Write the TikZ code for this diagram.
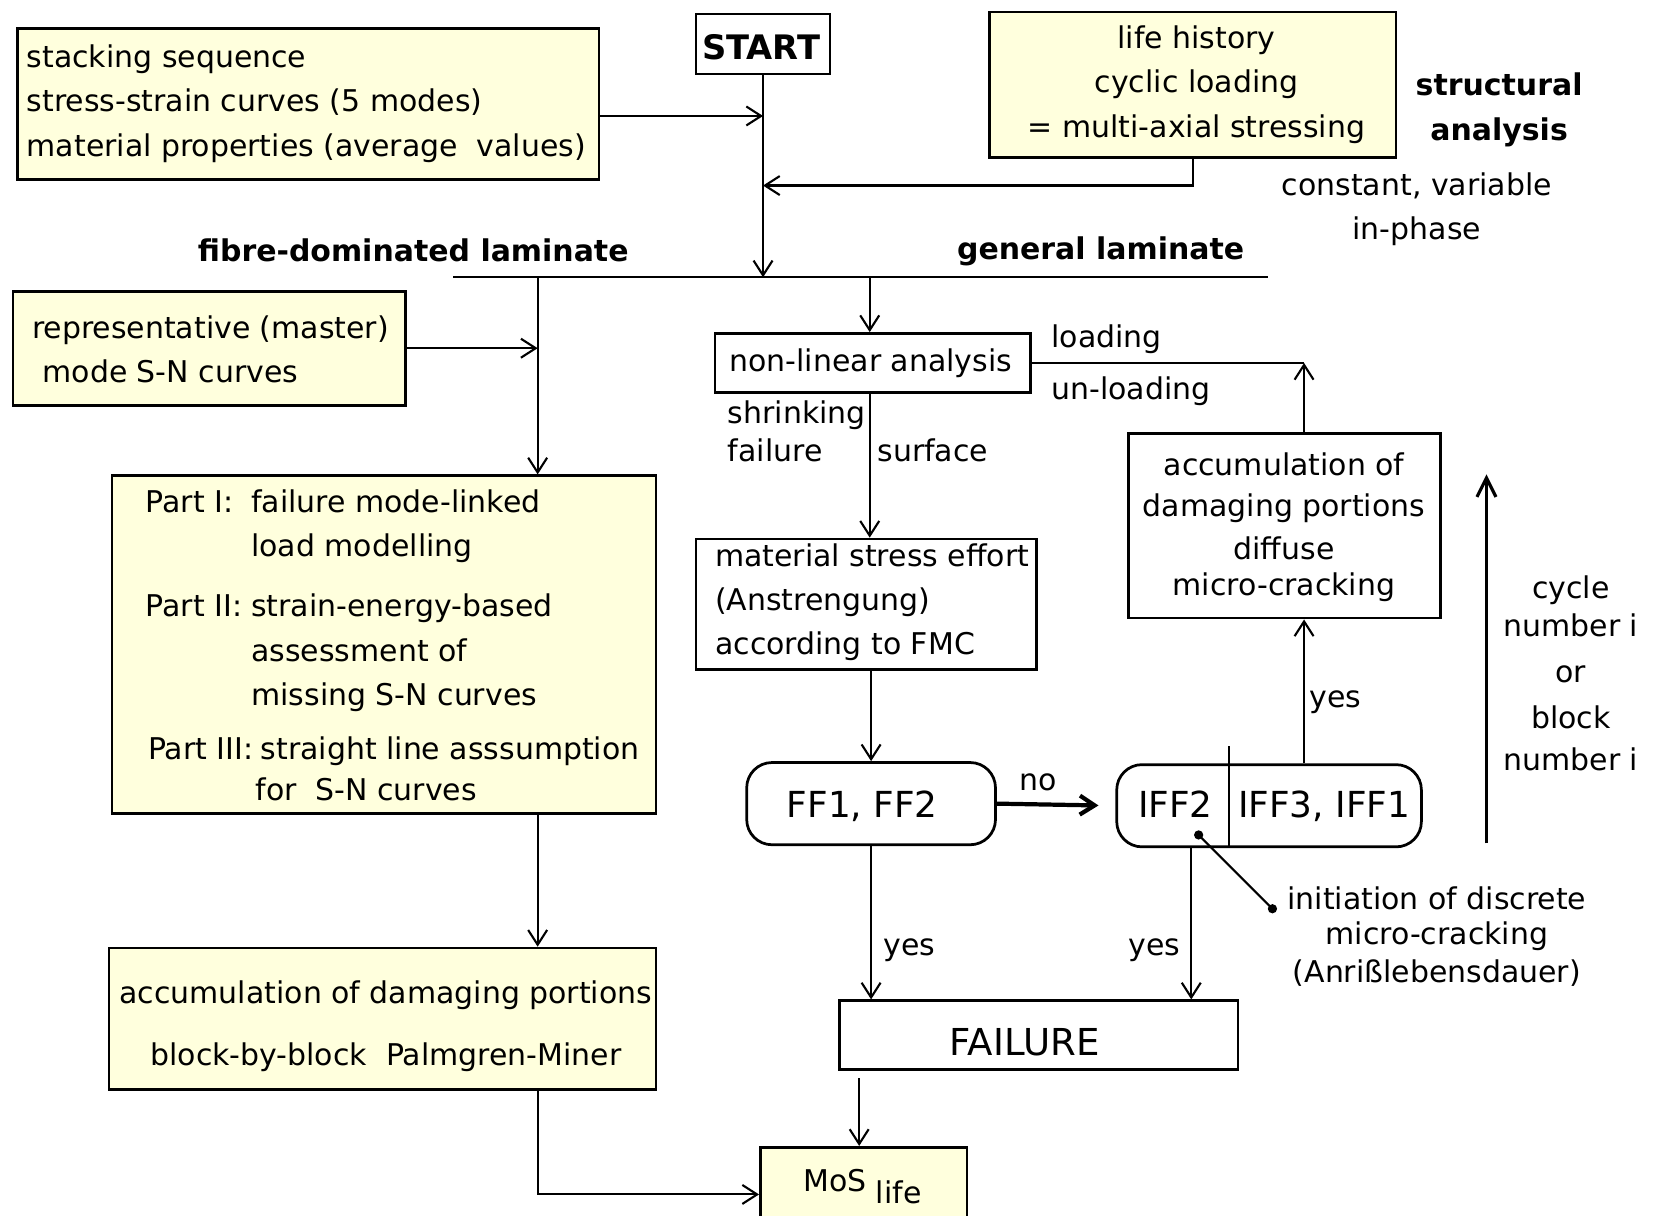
\documentclass[tikz,border=0pt]{standalone}
\usepackage{fontspec}
\setmainfont{DejaVu Sans}
\usetikzlibrary{arrows.meta}
\definecolor{ylw}{RGB}{255,255,221}
\newcommand{\mytl}[1]{\begin{tabular}[t]{@{}l@{}}#1\end{tabular}}
\newcommand{\mytc}[1]{\begin{tabular}[t]{@{}c@{}}#1\end{tabular}}
\newcommand{\fs}{\fontsize{14.2}{21}\selectfont}
\newcommand{\fb}{\fontsize{17}{21}\selectfont}
\begin{document}
\begin{tikzpicture}[x=0.5pt,y=-0.5pt,
  bx/.style={draw, line width=1.3pt, inner sep=0pt, anchor=north west},
  yb/.style={bx, fill=ylw},
  wb/.style={bx, fill=white},
  rb/.style={bx, fill=white, rounded corners=12pt},
  ln/.style={line width=1pt},
  arr/.style={ln, -{Straight Barb[length=7pt,width=9pt]}},
  tx/.style={inner sep=0pt, font=\fs},
  bt/.style={inner sep=0pt, font=\fs\bfseries},
  dot/.style={fill=black}]
\clip (0,0) rectangle (1568,1153);
\fill[white] (0,0) rectangle (1568,1153);
% boxes
\node[yb, minimum width=276pt, minimum height=71.5pt] (stack) at (15,26) {};
\node[wb, minimum width=63.5pt, minimum height=28.5pt] (start) at (659,12) {};
\node[yb, minimum width=193pt, minimum height=69pt] (life) at (937,10) {};
\node[yb, minimum width=186pt, minimum height=54pt] (rep) at (11,275) {};
\node[yb, minimum width=258pt, minimum height=160pt] (part) at (105,450) {};
\node[yb, minimum width=259.5pt, minimum height=67pt] (accL) at (102,898) {};
\node[yb, minimum width=98pt, minimum height=50pt] (mos) at (720,1087) {};
\node[wb, minimum width=149.5pt, minimum height=28pt] (nonlin) at (677,315) {};
\node[wb, minimum width=161.5pt, minimum height=62pt] (mat) at (659,510) {};
\node[rb, minimum width=118pt, minimum height=39pt] (ff) at (707,722) {};
\node[rb, minimum width=144.5pt, minimum height=39pt] (iff) at (1058,724) {};
\node[wb, minimum width=148pt, minimum height=87.5pt] (accR) at (1069,410) {};
\node[wb, minimum width=189pt, minimum height=32.5pt] (fail) at (795,948) {};
% texts
\node[tx, anchor=base west] (tstack) at (25,64) {\mytl{stacking sequence\\stress-strain curves (5 modes)\\material properties (average~ values)}};
\node[inner sep=0pt, anchor=base, font=\fontsize{16}{21}\selectfont\bfseries] (tstart) at (722,56) {START};
\node[tx, anchor=base] (tlife) at (1135,46) {\mytc{life history\\cyclic loading\\= multi-axial stressing}};
\node[bt, anchor=base] (tstruct) at (1422,91) {\mytc{structural\\analysis}};
\node[tx, anchor=base] (tconst) at (1344,185) {\mytc{constant, variable\\in-phase}};
\node[bt, anchor=base] (tfibre) at (392,248) {fibre-dominated laminate};
\node[bt, anchor=base] (tgen) at (1044,246) {general laminate};
\node[tx, anchor=base west] (trep) at (30,321) {\mytl{representative (master)\\\hspace*{5pt}mode S-N curves}};
\node[tx, anchor=base west] (tpart) at (138,486) {\mytl{%
\makebox[50pt][l]{Part I:}failure mode-linked\\
\hspace*{50pt}load modelling\\[7.5pt]
\makebox[50pt][l]{Part II:}strain-energy-based\\
\hspace*{50pt}assessment of\\
\hspace*{50pt}missing S-N curves\\[4.5pt]
\hspace*{1pt}\makebox[53.5pt][l]{Part III:}straight line asssumption\\[-1.5pt]
\hspace*{52pt}for~ S-N curves}};
\node[tx, anchor=base] (taccL) at (366,952) {\mytc{accumulation of damaging portions\\[8.5pt]block-by-block~ Palmgren-Miner}};
\node[tx, anchor=base] (tnonlin) at (826,352) {non-linear analysis};
\node[tx, anchor=base west] (tshrink) at (690,402) {\mytl{shrinking\\[-3pt]failure}};
\node[tx, anchor=base west] (tsurf) at (832,438) {surface};
\node[tx, anchor=base west] (tload) at (997,330) {loading};
\node[tx, anchor=base west] (tunload) at (997,379) {un-loading};
\node[tx, anchor=base west] (tmat) at (678,537) {\mytl{material stress effort\\(Anstrengung)\\according to FMC}};
\node[tx, anchor=base] (taccR) at (1218,451) {\mytc{accumulation of\\[-1.5pt]damaging portions\\[-0.5pt]diffuse\\[-4pt]micro-cracking}};
\node[inner sep=0pt, anchor=base, font=\fb] (tff) at (818,775) {FF1, FF2};
\node[inner sep=0pt, anchor=base, font=\fb] (tiff2) at (1115,775) {IFF2};
\node[inner sep=0pt, anchor=base, font=\fb] (tiff3) at (1256,775) {IFF3, IFF1};
\node[tx, anchor=base] (tno) at (985,750) {no};
\node[tx, anchor=base west] (tyes1) at (838,906) {yes};
\node[tx, anchor=base east] (tyes2) at (1120,906) {yes};
\node[tx, anchor=base west] (tyes3) at (1242,671) {yes};
\node[inner sep=0pt, anchor=base, font=\fontsize{17.6}{21}\selectfont] (tfail) at (972,1001) {FAILURE};
\node[tx, anchor=base] (tcycle) at (1490,568) {\mytc{cycle\\[-3pt]number i\\[0.5pt]or\\[1pt]block\\[-1pt]number i}};
\node[tx, anchor=base] (tinit) at (1363,863) {\mytc{initiation of discrete\\[-4.5pt]micro-cracking\\[-3pt](Anrißlebensdauer)}};
\node[tx, anchor=base] (tmos) at (818,1130) {MoS\raisebox{-6pt}{ life}};
% helper coordinates
\coordinate (y110) at (0,110);
\coordinate (y176) at (0,176);
\coordinate (y1133) at (0,1133);
\coordinate (barL) at (430,263);
\coordinate (barR) at (1203,263);
\coordinate (bl) at (510,263);
\coordinate (br) at (825,263);
\coordinate (xi) at (1130,0);
\coordinate (xu) at (1237,0);
\coordinate (xf) at (815,0);
\coordinate (cyB) at (1410,800);
\coordinate (cyT) at (1410,450);
\coordinate (dv) at (1166,708);
\coordinate (dotA) at (1137,792);
\coordinate (dotB) at (1207,862);
% connectors
\draw[arr] (stack.east |- y110) -- (start.south |- y110);
\draw[arr] (start.south) -- (start.south |- barL);
\draw[arr] (life.south) |- (start.south |- y176);
\draw[ln] (barL) -- (barR);
\draw[arr] (bl) -- (bl |- part.north);
\draw[arr] (rep.east) -- (bl |- rep.east);
\draw[arr] (bl |- part.south) -- (bl |- accL.north);
\draw[arr] (bl |- accL.south) |- (mos.west |- y1133);
\draw[arr] (br) -- (br |- nonlin.north);
\draw[arr] (br |- nonlin.south) -- (br |- mat.north);
\draw[arr] (ff.north |- mat.south) -- (ff.north);
\draw[arr, line width=2pt, shorten >=8pt] (ff.east) -- (iff.west);
\draw[arr] (ff.south) -- (ff.south |- fail.north);
\draw[arr] (xi |- iff.south) -- (xi |- fail.north);
\draw[arr] (xu |- iff.north) -- (xu |- accR.south);
\draw[ln] (nonlin.east) -- (xu |- nonlin.east);
\draw[arr] (xu |- accR.north) -- (xu |- nonlin.east);
\draw[line width=1.5pt, -{Straight Barb[length=9pt,width=9pt]}] (cyB) -- (cyT);
\draw[arr, shorten <=3.5pt] (xf |- fail.south) -- (xf |- mos.north);
\draw[ln] (dv) -- (dv |- iff.south);
\draw[ln] (dotA) -- (dotB);
\fill[dot] (dotA) circle[radius=2.2pt];
\fill[dot] (dotB) circle[radius=2.2pt];
\end{tikzpicture}
\end{document}
